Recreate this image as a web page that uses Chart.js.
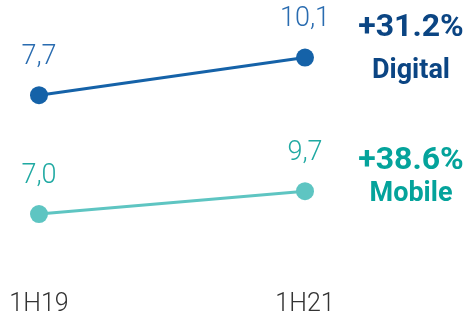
<!DOCTYPE html>
<html>
<head>
<meta charset="utf-8">
<script src="https://cdn.jsdelivr.net/npm/chart.js@4"></script>
<style>
  html, body { margin: 0; padding: 0; background: #fff; }
  #wrap { width: 474px; height: 320px; position: relative; }
</style>
</head>
<body>
<div id="wrap"><canvas id="chart"></canvas></div>
<script>
"use strict";

// data
const categories = ["1H19", "1H21"];
const digitalValues = [7.7, 10.1];
const mobileValues = [7.0, 9.7];
const seriesNames = ["Digital", "Mobile"];
const growthLabels = ["+31.2%", "+38.6%"];

const lineColors = ["#1562a8", "#5ec5c2"];
const valueColors = ["#2a6cb0", "#1fa9a2"];
const tagColors = ["#0b4583", "#04a39b"];

function fmt(v) {
  return v.toFixed(1).replace(".", ",");
}

// value labels above points + growth tags on the right
const labelsPlugin = {
  id: "labels",
  afterDatasetsDraw(chart) {
    const ctx = chart.ctx;
    const area = chart.chartArea;
    ctx.save();
    ctx.textAlign = "center";
    ctx.textBaseline = "middle";
    chart.data.datasets.forEach(function (ds, i) {
      const meta = chart.getDatasetMeta(i);
      ctx.fillStyle = valueColors[i];
      ctx.font = "300 27px Roboto, 'DejaVu Sans', sans-serif";
      meta.data.forEach(function (pt, j) {
        ctx.fillText(fmt(ds.data[j]), pt.x, pt.y - 38);
      });
      const last = meta.data[meta.data.length - 1];
      const cx = area.right + 106;
      ctx.fillStyle = tagColors[i];
      ctx.font = "bold 32px Roboto, 'DejaVu Sans', sans-serif";
      ctx.fillText(growthLabels[i], cx, last.y - 30);
      ctx.font = "bold 27px Roboto, 'DejaVu Sans', sans-serif";
      ctx.fillText(seriesNames[i], cx, last.y + (i === 0 ? 14 : 3));
    });
    ctx.restore();
  }
};

new Chart(document.getElementById("chart"), {
  type: "line",
  data: {
    labels: categories,
    datasets: [
      {
        label: seriesNames[0],
        data: digitalValues,
        yAxisID: "y",
        borderColor: lineColors[0],
        backgroundColor: lineColors[0],
        borderWidth: 3,
        pointRadius: 9,
        pointBorderWidth: 0,
        pointBackgroundColor: lineColors[0]
      },
      {
        label: seriesNames[1],
        data: mobileValues,
        yAxisID: "y2",
        borderColor: lineColors[1],
        backgroundColor: lineColors[1],
        borderWidth: 3,
        pointRadius: 9,
        pointBorderWidth: 0,
        pointBackgroundColor: lineColors[1]
      }
    ]
  },
  options: {
    responsive: true,
    maintainAspectRatio: false,
    animation: false,
    layout: { autoPadding: false, padding: { left: 39, right: 169, top: 0, bottom: 0 } },
    plugins: {
      legend: { display: false },
      tooltip: { enabled: false }
    },
    scales: {
      x: {
        offset: false,
        grid: { display: false, drawTicks: false },
        border: { display: false },
        afterFit: function (scale) {
          scale.height = 45;
          scale.paddingLeft = 0;
          scale.paddingRight = 0;
        },
        ticks: {
          padding: 15,
          color: "#333333",
          font: { family: "Roboto", weight: "300", size: 25 }
        }
      },
      y: {
        display: false,
        min: -3.74,
        max: 13.76
      },
      y2: {
        display: false,
        min: -0.21,
        max: 32.3
      }
    }
  },
  plugins: [labelsPlugin]
});
</script>
</body>
</html>
